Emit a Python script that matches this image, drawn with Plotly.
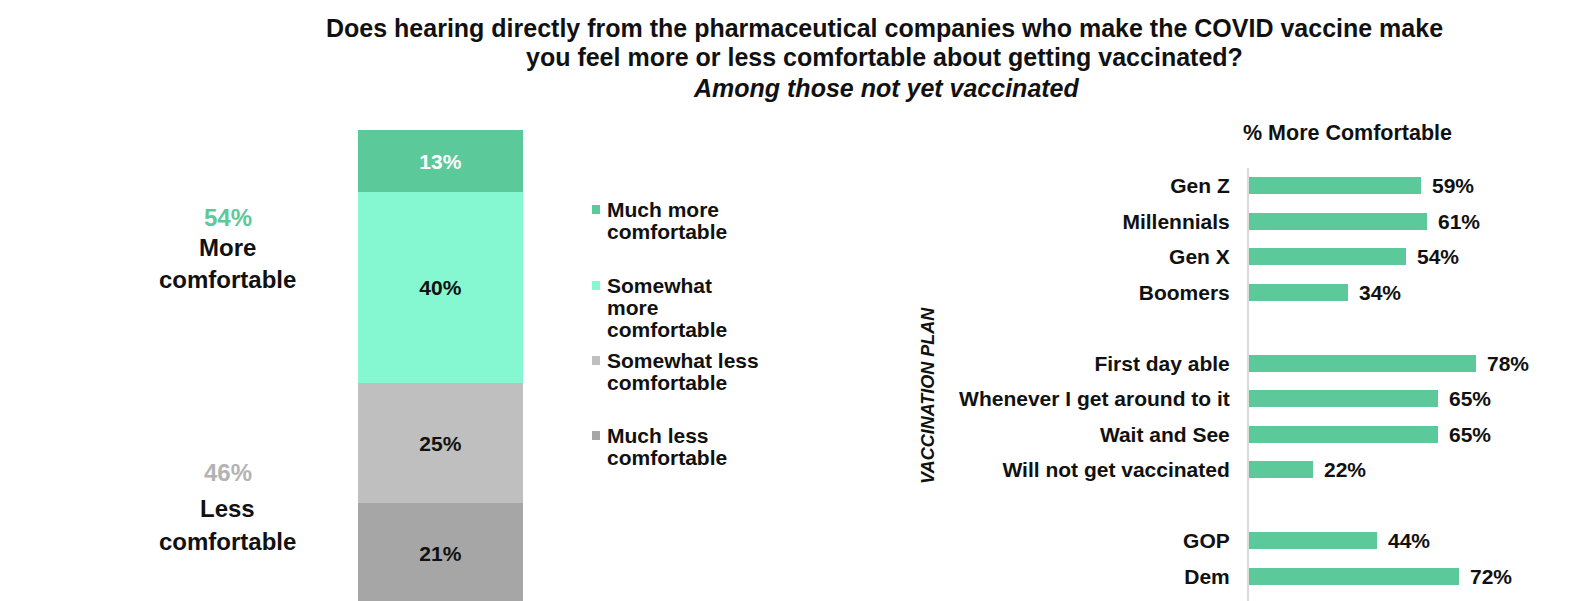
import plotly.graph_objects as go

W, H = 1573, 601
FONT = "Arial, Liberation Sans, Helvetica, sans-serif"

# ---------------- data ----------------
title_lines = [
    "Does hearing directly from the pharmaceutical companies who make the COVID vaccine make",
    "you feel more or less comfortable about getting vaccinated?",
]
subtitle = "Among those not yet vaccinated"

stack_labels = ["Much more comfortable", "Somewhat more comfortable",
                "Somewhat less comfortable", "Much less comfortable"]
stack_values = [13, 40, 25, 21]
stack_colors = ["#5BC99A", "#85F7D1", "#BFBFBF", "#A6A6A6"]
stack_text_colors = ["#FFFFFF", "#111111", "#111111", "#111111"]
legend_lines = [["Much more", "comfortable"],
                ["Somewhat", "more", "comfortable"],
                ["Somewhat less", "comfortable"],
                ["Much less", "comfortable"]]

more_total, less_total = 54, 46

right_title = "% More Comfortable"
groups = ["Gen Z", "Millennials", "Gen X", "Boomers",
          "First day able", "Whenever I get around to it", "Wait and See",
          "Will not get vaccinated", "GOP", "Dem"]
group_values = [59, 61, 54, 34, 78, 65, 65, 22, 44, 72]
category_order = ["Gen Z", "Millennials", "Gen X", "Boomers", " ",
                  "First day able", "Whenever I get around to it", "Wait and See",
                  "Will not get vaccinated", "  ", "GOP", "Dem"]
side_label = "VACCINATION PLAN"

GREEN = "#5BC99A"


def px_x(p):
    return p / W


def px_y(p):
    return 1 - p / H


fig = go.Figure()

# ---------------- left stacked bar ----------------
for lab, val, col, tcol in reversed(list(zip(stack_labels, stack_values, stack_colors, stack_text_colors))):
    fig.add_trace(go.Bar(
        x=[0], y=[val], name=lab, marker=dict(color=col, line=dict(width=0)),
        width=1, text=[f"{val}%"], textposition="inside", insidetextanchor="middle",
        textangle=0,
        textfont=dict(family=FONT, size=21, color=tcol, weight="bold"),
        xaxis="x", yaxis="y", showlegend=False, hoverinfo="skip",
    ))

# ---------------- right horizontal bars ----------------
fig.add_trace(go.Bar(
    x=group_values, y=groups, orientation="h", width=0.48,
    marker=dict(color=GREEN, line=dict(width=0)),
    xaxis="x2", yaxis="y2", showlegend=False, hoverinfo="skip",
))

annotations = []
for g, v in zip(groups, group_values):
    annotations.append(dict(
        x=v, y=g, xref="x2", yref="y2", text=f"{v}%", showarrow=False,
        xanchor="left", yanchor="middle", xshift=9,
        font=dict(family=FONT, size=21, color="#111111", weight="bold"),
    ))


def ann(text, x, y, size, color="#111111", xanchor="center", italic=False, angle=0, bold=True):
    annotations.append(dict(
        text=text, x=px_x(x), y=px_y(y), xref="paper", yref="paper",
        showarrow=False, xanchor=xanchor, yanchor="middle", textangle=angle,
        font=dict(family=FONT, size=size, color=color,
                  weight="bold" if bold else "normal",
                  style="italic" if italic else "normal"),
    ))


# title
ann(title_lines[0], 885, 28, 25)
ann(title_lines[1], 885, 57, 25)
ann(subtitle, 886, 88, 25, italic=True)

# left big labels
ann(f"{more_total}%", 228, 217, 24, color=GREEN)
ann("More", 228, 247, 24)
ann("comfortable", 228, 279, 24)
ann(f"{less_total}%", 228, 472, 24, color="#B3B3B3")
ann("Less", 228, 508, 24)
ann("comfortable", 228, 541, 24)

# legend (manual, to match wrapped layout)
legend_tops = [209, 285, 360, 435]
shapes = []
for lines, top, col in zip(legend_lines, legend_tops, stack_colors):
    shapes.append(dict(type="rect", xref="paper", yref="paper",
                       x0=px_x(592), x1=px_x(600), y0=px_y(top + 5), y1=px_y(top - 4),
                       fillcolor=col, line=dict(width=0)))
    for i, ln in enumerate(lines):
        ann(ln, 605, top + 22 * i, 21, xanchor="left")

# right chart title and side label
ann(right_title, 1347, 133, 21.5)
ann(side_label, 928, 395, 18, italic=True, angle=-90)

fig.update_layout(
    width=W, height=H,
    margin=dict(l=0, r=0, t=0, b=0, pad=0),
    paper_bgcolor="white", plot_bgcolor="white",
    barmode="stack", bargap=0,
    font=dict(family=FONT, color="#111111"),
    xaxis=dict(domain=[px_x(358), px_x(523)], range=[-0.5, 0.5], visible=False, fixedrange=True),
    yaxis=dict(domain=[0, px_y(130)], range=[0.5, 99], visible=False, fixedrange=True),
    xaxis2=dict(domain=[px_x(1249), 1], range=[0, (W - 1249) / 2.91], visible=False,
                anchor="y2", fixedrange=True),
    yaxis2=dict(domain=[0, px_y(168)], type="category", categoryorder="array",
                categoryarray=category_order, range=[11.69, -0.5], anchor="x2",
                showline=True, linecolor="#D9D9D9", linewidth=2, showgrid=False,
                zeroline=False, ticks="", ticklabelstandoff=13,
                tickfont=dict(family=FONT, size=21, color="#111111", weight="bold"),
                fixedrange=True),
    annotations=annotations,
    shapes=shapes,
    showlegend=False,
)

fig.write_html("out.html")
